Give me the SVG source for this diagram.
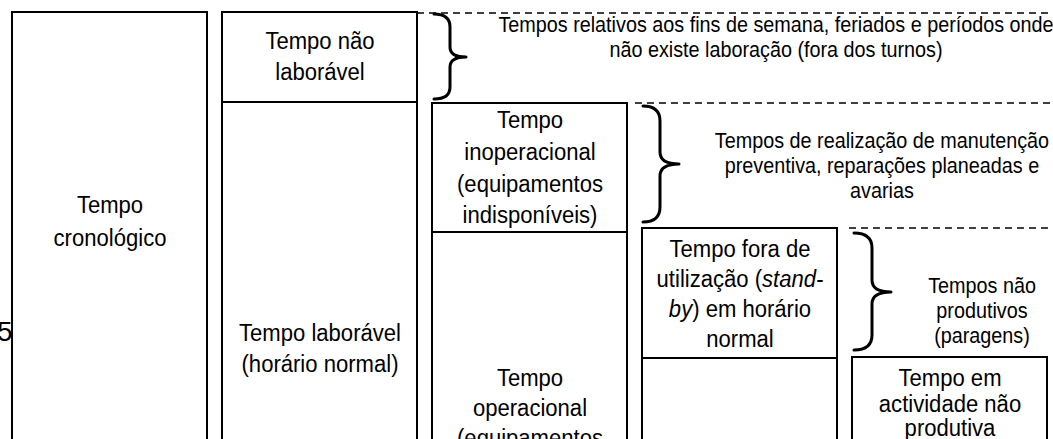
<svg xmlns="http://www.w3.org/2000/svg" width="1053" height="439" viewBox="0 0 1053 439">
<style>
  .box{fill:#fff;stroke:#000;stroke-width:2}
  .div{stroke:#000;stroke-width:2;fill:none}
  .t{font-family:"Liberation Sans",Arial,sans-serif;font-size:23px;fill:#000;text-anchor:middle}
  .d{font-family:"Liberation Sans",Arial,sans-serif;font-size:22px;fill:#000;text-anchor:middle}
  .dash{stroke:#000;stroke-width:1.5;stroke-dasharray:7 5;fill:none}
  .brace{stroke:#000;stroke-width:3;fill:none;stroke-linejoin:round;stroke-linecap:round}
</style>
<rect width="1053" height="439" fill="#fff"/>
<text x="-3" y="341" font-family="Liberation Sans,Arial,sans-serif" font-size="28">5</text>

<g id="cronologico">
  <rect class="box" x="12" y="12" width="195" height="440"/>
  <text class="t" transform="translate(110 213) scale(0.96 1)">Tempo</text>
  <text class="t" transform="translate(110 246) scale(0.96 1)">cronológico</text>
</g>

<g id="laboravel">
  <rect class="box" x="222" y="12" width="195" height="440"/>
  <line class="div" x1="222" y1="102" x2="417" y2="102"/>
  <text class="t" transform="translate(320 49) scale(0.96 1)">Tempo não</text>
  <text class="t" transform="translate(320 80) scale(0.96 1)">laborável</text>
  <text class="t" transform="translate(320 341) scale(0.96 1)">Tempo laborável</text>
  <text class="t" transform="translate(320 372) scale(0.96 1)">(horário normal)</text>
</g>

<g id="operacional">
  <rect class="box" x="432" y="103" width="195" height="350"/>
  <line class="div" x1="432" y1="232" x2="627" y2="232"/>
  <text class="t" transform="translate(530 128) scale(0.96 1)">Tempo</text>
  <text class="t" transform="translate(530 160) scale(0.96 1)">inoperacional</text>
  <text class="t" transform="translate(530 192) scale(0.96 1)">(equipamentos</text>
  <text class="t" transform="translate(530 223) scale(0.96 1)">indisponíveis)</text>
  <text class="t" transform="translate(530 386) scale(0.96 1)">Tempo</text>
  <text class="t" transform="translate(530 416) scale(0.96 1)">operacional</text>
  <text class="t" transform="translate(530 446) scale(0.96 1)">(equipamentos</text>
</g>

<g id="utilizacao">
  <rect class="box" x="642" y="228" width="195" height="230"/>
  <line class="div" x1="642" y1="358" x2="837" y2="358"/>
  <text class="t" transform="translate(740 257) scale(0.96 1)">Tempo fora de</text>
  <text class="t" transform="translate(740 287) scale(0.96 1)">utilização (<tspan font-style="italic">stand-</tspan></text>
  <text class="t" transform="translate(740 317) scale(0.96 1)"><tspan font-style="italic">by</tspan>) em horário</text>
  <text class="t" transform="translate(740 347) scale(0.96 1)">normal</text>
</g>

<g id="actividade">
  <rect class="box" x="852" y="357" width="195" height="100"/>
  <text class="t" transform="translate(950 386) scale(0.96 1)">Tempo em</text>
  <text class="t" transform="translate(950 412) scale(0.96 1)">actividade não</text>
  <text class="t" transform="translate(950 436) scale(0.96 1)">produtiva</text>
</g>

<g id="connectors">
  <line class="dash" x1="417" y1="13" x2="1053" y2="13"/>
  <line class="dash" x1="635" y1="103" x2="1053" y2="103"/>
  <line class="dash" x1="849" y1="228" x2="1053" y2="228"/>
  <path class="brace" d="M434 14 Q450 14 450 27 L450 47 Q450 57 466 57 Q450 57 450 67 L450 87 Q450 99 434 99"/>
  <path class="brace" d="M643 106 Q660 106 660 121 L660 152 Q660 164 679 164 Q660 164 660 176 L660 207 Q660 222 643 222"/>
  <path class="brace" d="M854 233 Q872 233 872 248 L872 280 Q872 292 891 292 Q872 292 872 304 L872 335 Q872 350 854 350"/>
</g>

<g id="descricoes">
  <text class="d" transform="translate(776 32) scale(0.9 1)">Tempos relativos aos fins de semana, feriados e períodos onde</text>
  <text class="d" transform="translate(776 57) scale(0.9 1)">não existe laboração (fora dos turnos)</text>
  <text class="d" transform="translate(882 148) scale(0.9 1)">Tempos de realização de manutenção</text>
  <text class="d" transform="translate(882 173) scale(0.9 1)">preventiva, reparações planeadas e</text>
  <text class="d" transform="translate(882 198) scale(0.9 1)">avarias</text>
  <text class="d" transform="translate(982 293) scale(0.9 1)">Tempos não</text>
  <text class="d" transform="translate(982 318) scale(0.9 1)">produtivos</text>
  <text class="d" transform="translate(982 343) scale(0.9 1)">(paragens)</text>
</g>
</svg>
